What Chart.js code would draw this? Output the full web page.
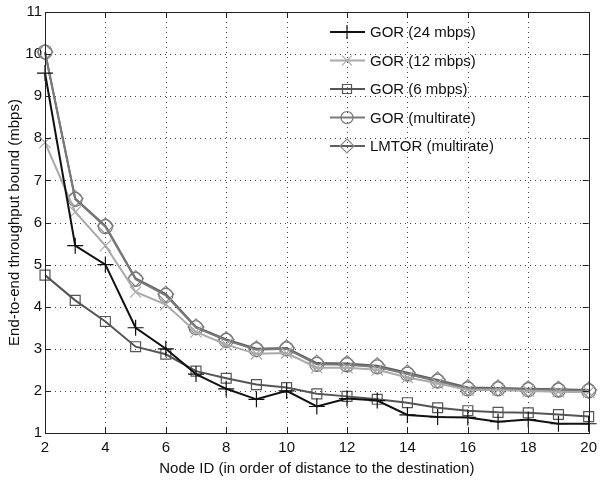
<!DOCTYPE html>
<html>
<head>
<meta charset="utf-8">
<script src="https://cdn.jsdelivr.net/npm/chart.js@4.4.1/dist/chart.umd.min.js"></script>
<style>
  html, body { margin: 0; padding: 0; background: #fff; }
  #wrap { width: 603px; height: 480px; }
</style>
</head>
<body>
<div id="wrap"><canvas id="c"></canvas></div>
<script>
// node ids on the x axis
const nodeIds = [2, 3, 4, 5, 6, 7, 8, 9, 10, 11, 12, 13, 14, 15, 16, 17, 18, 19, 20];

// throughput bounds (mbps)
const gor24 = [9.55, 5.45, 5.0, 3.5, 3.0, 2.4, 2.05, 1.8, 2.0, 1.63, 1.82, 1.77, 1.43, 1.38, 1.37, 1.27, 1.32, 1.22, 1.22];
const gor12 = [7.9, 6.25, 5.45, 4.35, 4.05, 3.4, 3.1, 2.88, 2.9, 2.55, 2.55, 2.5, 2.32, 2.18, 2.02, 2.02, 2.0, 1.98, 1.97];
const gor6 = [4.75, 4.15, 3.65, 3.05, 2.87, 2.47, 2.3, 2.15, 2.08, 1.93, 1.87, 1.8, 1.72, 1.6, 1.53, 1.49, 1.48, 1.44, 1.39];
const gorMulti = [10.05, 6.55, 5.9, 4.65, 4.27, 3.5, 3.2, 2.98, 3.0, 2.63, 2.62, 2.57, 2.4, 2.23, 2.05, 2.05, 2.03, 2.02, 2.0];
const lmtorMulti = [10.05, 6.57, 5.92, 4.67, 4.3, 3.52, 3.22, 3.0, 3.02, 2.66, 2.65, 2.6, 2.43, 2.26, 2.08, 2.07, 2.05, 2.04, 2.02];

const xTicks = [2, 4, 6, 8, 10, 12, 14, 16, 18, 20];
const yTicks = [1, 2, 3, 4, 5, 6, 7, 8, 9, 10, 11];

const FONT = '"Liberation Sans", Arial, Helvetica, sans-serif';

function pts(ys) {
  return ys.map((y, i) => ({ x: nodeIds[i], y }));
}

function marker(ctx, style, cx, cy, r) {
  ctx.beginPath();
  if (style === 'cross') { ctx.moveTo(cx - r, cy); ctx.lineTo(cx + r, cy); ctx.moveTo(cx, cy - r); ctx.lineTo(cx, cy + r); }
  if (style === 'crossRot') { const d = r * 0.7; ctx.moveTo(cx - d, cy - d); ctx.lineTo(cx + d, cy + d); ctx.moveTo(cx - d, cy + d); ctx.lineTo(cx + d, cy - d); }
  if (style === 'rect') { ctx.rect(cx - r * 0.75, cy - r * 0.75, r * 1.5, r * 1.5); }
  if (style === 'circle') { ctx.arc(cx, cy, r, 0, Math.PI * 2); }
  if (style === 'rectRot') { ctx.moveTo(cx, cy - r); ctx.lineTo(cx + r, cy); ctx.lineTo(cx, cy + r); ctx.lineTo(cx - r, cy); ctx.closePath(); }
  ctx.stroke();
}

const series = [
  { label: 'GOR (24 mbps)', data: gor24, color: '#111111', style: 'cross', r: 8 },
  { label: 'GOR (12 mbps)', data: gor12, color: '#aaaaaa', style: 'crossRot', r: 8 },
  { label: 'GOR (6 mbps)', data: gor6, color: '#555555', style: 'rect', r: 7 },
  { label: 'GOR (multirate)', data: gorMulti, color: '#7a7a7a', style: 'circle', r: 7 },
  { label: 'LMTOR (multirate)', data: lmtorMulti, color: '#5e5e5e', style: 'rectRot', r: 8, mark: '#8a8a8a' },
];

const datasets = series.map(s => ({
  label: s.label,
  data: pts(s.data),
  borderColor: s.color,
  backgroundColor: 'transparent',
  borderWidth: 2,
  pointStyle: s.style,
  pointRadius: s.r,
  pointBorderWidth: 1.2,
  pointBorderColor: s.mark || s.color,
  pointBackgroundColor: 'transparent',
  tension: 0,
  clip: false,
}));

// dotted matlab grid under the lines
const dottedGrid = {
  id: 'dottedGrid',
  beforeDatasetsDraw(chart) {
    const { ctx, chartArea: a, scales } = chart;
    ctx.save();
    ctx.strokeStyle = '#444';
    ctx.lineWidth = 1;
    ctx.setLineDash([1, 4]);
    ctx.beginPath();
    xTicks.slice(1, -1).forEach(v => {
      const x = Math.round(scales.x.getPixelForValue(v)) + 0.5;
      ctx.moveTo(x, a.top); ctx.lineTo(x, a.bottom);
    });
    yTicks.slice(1, -1).forEach(v => {
      const y = Math.round(scales.y.getPixelForValue(v)) + 0.5;
      ctx.moveTo(a.left, y); ctx.lineTo(a.right, y);
    });
    ctx.stroke();
    ctx.restore();
  }
};

// box round the axes, inward ticks, and the legend
const frame = {
  id: 'frame',
  afterDraw(chart) {
    const { ctx, chartArea: a, scales } = chart;
    ctx.save();
    ctx.strokeStyle = '#222';
    ctx.lineWidth = 1;
    ctx.strokeRect(Math.round(a.left) + 0.5, Math.round(a.top) + 0.5, Math.round(a.right - a.left), Math.round(a.bottom - a.top));
    ctx.beginPath();
    xTicks.forEach(v => {
      const x = Math.round(scales.x.getPixelForValue(v)) + 0.5;
      ctx.moveTo(x, a.bottom); ctx.lineTo(x, a.bottom - 6);
      ctx.moveTo(x, a.top); ctx.lineTo(x, a.top + 6);
    });
    yTicks.forEach(v => {
      const y = Math.round(scales.y.getPixelForValue(v)) + 0.5;
      ctx.moveTo(a.left, y); ctx.lineTo(a.left + 6, y);
      ctx.moveTo(a.right, y); ctx.lineTo(a.right - 6, y);
    });
    ctx.stroke();

    // legend entries: line with marker, then label
    const lx = 330, ly = 32, step = 28.5;
    ctx.font = '15px ' + FONT;
    ctx.textBaseline = 'middle';
    series.forEach((s, i) => {
      const y = ly + i * step;
      ctx.strokeStyle = s.color;
      ctx.lineWidth = 2;
      ctx.beginPath(); ctx.moveTo(lx, y); ctx.lineTo(lx + 35, y); ctx.stroke();
      ctx.strokeStyle = s.mark || s.color;
      ctx.lineWidth = 1.2;
      marker(ctx, s.style, lx + 17, y, s.r - 1);
      ctx.fillStyle = '#111';
      ctx.fillText(s.label, lx + 40, y + 1);
    });
    ctx.restore();
  }
};

new Chart(document.getElementById('c'), {
  type: 'line',
  data: { datasets },
  plugins: [dottedGrid, frame],
  options: {
    responsive: true,
    maintainAspectRatio: false,
    animation: false,
    devicePixelRatio: 1,
    layout: { padding: { top: -8, right: -8, left: 0, bottom: 0 } },
    plugins: {
      tooltip: { enabled: false },
      legend: { display: false },
    },
    scales: {
      x: {
        type: 'linear',
        min: 2, max: 20,
        afterBuildTicks(axis) { axis.ticks = xTicks.map(v => ({ value: v })); },
        afterFit(axis) { axis.height = 47; },
        grid: { display: false, drawTicks: false },
        border: { display: false },
        ticks: { color: '#111', font: { family: FONT, size: 15 }, padding: 6, maxRotation: 0 },
        title: { display: true, text: 'Node ID (in order of distance to the destination)', color: '#111', font: { family: FONT, size: 15 }, padding: { top: 4, bottom: 2 } },
      },
      y: {
        min: 1, max: 11,
        afterBuildTicks(axis) { axis.ticks = yTicks.map(v => ({ value: v })); },
        afterFit(axis) { axis.width = 45; },
        grid: { display: false, drawTicks: false },
        border: { display: false },
        ticks: { color: '#111', font: { family: FONT, size: 15 }, padding: 3 },
        title: { display: true, text: 'End-to-end throughput bound (mbps)', color: '#111', font: { family: FONT, size: 15 }, padding: { top: 6, bottom: 0 } },
      },
    },
  },
});
</script>
</body>
</html>
